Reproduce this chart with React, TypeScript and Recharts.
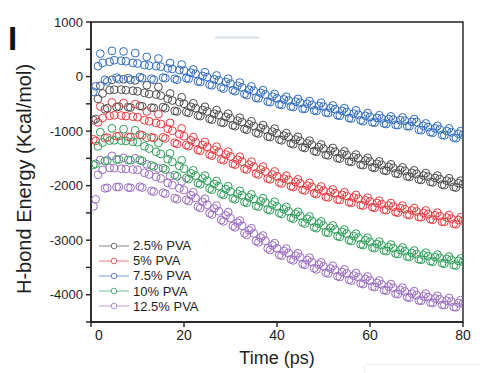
import React from 'react';
import { ScatterChart, Scatter, XAxis, YAxis, ReferenceArea } from 'recharts';

// time axis (ps), one sample every 0.5 ps
const TIME = Array.from({ length: 160 }, (_, i) => 0.5 + i * 0.5);

const X_TICKS = [0, 20, 40, 60, 80];
const Y_TICKS = [-4500, -4000, -3500, -3000, -2500, -2000, -1500, -1000, -500, 0, 500, 1000];

const SERIES_NAMES = ['2.5% PVA', '5% PVA', '7.5% PVA', '10% PVA', '12.5% PVA'];
const COLORS = ['#4d4d4d', '#e53a3f', '#2f6bc0', '#2e9e5a', '#9a6cc0'];

const PVA_2_5 = [
  -800, -780, -410, -170, -310, -600, -580, -250, -60, -240,
  -560, -550, -240, -50, -250, -560, -570, -260, -70, -270,
  -540, -545, -300, -160, -320, -570, -575, -330, -190, -350,
  -560, -580, -410, -310, -440, -630, -640, -470, -380, -500,
  -650, -665, -555, -490, -580, -715, -725, -615, -555, -640,
  -775, -790, -680, -615, -705, -840, -850, -740, -680, -765,
  -895, -910, -810, -755, -835, -960, -975, -875, -820, -905,
  -1030, -1045, -945, -890, -970, -1100, -1110, -1010, -955, -1040,
  -1155, -1170, -1085, -1035, -1110, -1225, -1240, -1155, -1105, -1180,
  -1295, -1310, -1225, -1175, -1250, -1365, -1380, -1295, -1245, -1320,
  -1435, -1445, -1360, -1310, -1380, -1495, -1505, -1420, -1370, -1440,
  -1555, -1565, -1480, -1430, -1500, -1615, -1625, -1540, -1490, -1560,
  -1665, -1675, -1600, -1555, -1620, -1720, -1730, -1655, -1610, -1675,
  -1775, -1785, -1710, -1665, -1730, -1830, -1840, -1765, -1720, -1785,
  -1885, -1895, -1815, -1770, -1835, -1930, -1940, -1860, -1815, -1880,
  -1980, -1990, -1910, -1865, -1930, -2025, -2035, -1955, -1910, -1975,
];

const PVA_5 = [
  -1150, -1180, -840, -550, -760, -1130, -1120, -720, -475, -710,
  -1095, -1090, -715, -485, -725, -1105, -1110, -735, -505, -745,
  -1065, -1075, -800, -640, -820, -1115, -1125, -850, -690, -870,
  -1115, -1135, -955, -850, -995, -1215, -1235, -1055, -950, -1095,
  -1255, -1275, -1170, -1110, -1205, -1345, -1360, -1255, -1200, -1290,
  -1430, -1450, -1345, -1285, -1380, -1520, -1535, -1430, -1375, -1465,
  -1600, -1615, -1525, -1470, -1560, -1690, -1705, -1615, -1560, -1650,
  -1780, -1795, -1705, -1650, -1740, -1870, -1885, -1795, -1740, -1830,
  -1945, -1960, -1870, -1820, -1895, -2010, -2025, -1935, -1885, -1960,
  -2075, -2090, -2000, -1950, -2025, -2140, -2155, -2065, -2015, -2090,
  -2205, -2215, -2120, -2070, -2140, -2255, -2265, -2170, -2120, -2190,
  -2305, -2315, -2220, -2170, -2240, -2355, -2365, -2270, -2220, -2290,
  -2395, -2405, -2320, -2275, -2340, -2440, -2450, -2365, -2320, -2385,
  -2485, -2495, -2410, -2365, -2430, -2530, -2540, -2455, -2410, -2475,
  -2575, -2580, -2500, -2455, -2520, -2615, -2625, -2545, -2495, -2560,
  -2660, -2665, -2585, -2540, -2605, -2700, -2710, -2630, -2580, -2645,
];

const PVA_7_5 = [
  -280, -180, 190, 420, 250, -60, -90, 270, 470, 300,
  -20, -50, 290, 460, 280, -30, -60, 250, 430, 240,
  -10, -30, 210, 360, 200, -40, -60, 190, 330, 180,
  -20, -30, 150, 250, 140, -40, -60, 120, 220, 110,
  -30, -40, 70, 130, 50, -90, -100, 10, 80, -10,
  -150, -160, -50, 20, -70, -200, -220, -100, -40, -130,
  -250, -270, -170, -110, -200, -320, -340, -240, -180, -260,
  -390, -400, -300, -250, -330, -460, -470, -370, -320, -400,
  -510, -520, -420, -370, -440, -550, -560, -460, -410, -480,
  -590, -590, -500, -450, -520, -620, -630, -540, -480, -550,
  -660, -670, -580, -530, -600, -710, -720, -630, -580, -650,
  -760, -770, -680, -620, -700, -800, -820, -720, -670, -740,
  -840, -845, -760, -710, -770, -860, -870, -780, -730, -790,
  -885, -890, -800, -750, -810, -910, -910, -830, -780, -835,
  -975, -985, -905, -860, -925, -1020, -1030, -950, -905, -970,
  -1070, -1080, -1000, -950, -1020, -1120, -1130, -1050, -1000, -1070,
];

const PVA_10 = [
  -1620, -1600, -1280, -1020, -1210, -1550, -1540, -1175, -950, -1170,
  -1520, -1520, -1175, -965, -1180, -1530, -1535, -1195, -985, -1205,
  -1530, -1550, -1280, -1120, -1320, -1630, -1650, -1380, -1220, -1420,
  -1680, -1705, -1515, -1410, -1565, -1805, -1830, -1640, -1535, -1690,
  -1860, -1880, -1775, -1720, -1815, -1955, -1975, -1870, -1815, -1910,
  -2055, -2075, -1970, -1915, -2010, -2150, -2170, -2065, -2010, -2105,
  -2235, -2250, -2150, -2095, -2175, -2300, -2315, -2215, -2160, -2245,
  -2370, -2385, -2285, -2230, -2310, -2435, -2450, -2350, -2295, -2380,
  -2500, -2520, -2435, -2390, -2470, -2590, -2605, -2520, -2480, -2555,
  -2675, -2695, -2610, -2565, -2645, -2765, -2780, -2695, -2655, -2730,
  -2850, -2865, -2775, -2730, -2805, -2925, -2940, -2850, -2805, -2880,
  -3000, -3015, -2925, -2880, -2955, -3075, -3090, -3000, -2955, -3030,
  -3135, -3145, -3070, -3025, -3090, -3190, -3200, -3125, -3080, -3145,
  -3245, -3255, -3180, -3135, -3200, -3300, -3310, -3235, -3190, -3255,
  -3350, -3360, -3275, -3230, -3290, -3385, -3395, -3310, -3265, -3325,
  -3420, -3430, -3345, -3300, -3360, -3455, -3465, -3380, -3335, -3395,
];

const PVA_12_5 = [
  -2380, -2250, -1800, -1530, -1710, -2050, -2040, -1675, -1455, -1680,
  -2025, -2025, -1690, -1490, -1695, -2035, -2040, -1705, -1500, -1710,
  -2020, -2035, -1765, -1610, -1795, -2095, -2110, -1840, -1685, -1870,
  -2130, -2150, -1950, -1830, -1990, -2230, -2250, -2050, -1925, -2080,
  -2260, -2285, -2175, -2120, -2225, -2385, -2410, -2300, -2240, -2350,
  -2505, -2530, -2420, -2365, -2470, -2630, -2655, -2545, -2485, -2595,
  -2740, -2765, -2680, -2640, -2735, -2875, -2905, -2820, -2780, -2875,
  -3015, -3040, -2955, -2915, -3010, -3150, -3180, -3095, -3055, -3150,
  -3270, -3285, -3200, -3155, -3235, -3350, -3370, -3285, -3240, -3315,
  -3435, -3450, -3365, -3320, -3400, -3515, -3535, -3450, -3405, -3480,
  -3595, -3610, -3520, -3470, -3545, -3660, -3675, -3585, -3535, -3610,
  -3725, -3740, -3650, -3600, -3675, -3790, -3805, -3715, -3665, -3740,
  -3850, -3860, -3785, -3740, -3810, -3915, -3925, -3850, -3805, -3875,
  -3980, -3990, -3915, -3870, -3940, -4045, -4055, -3980, -3935, -4005,
  -4105, -4110, -4030, -3980, -4045, -4145, -4150, -4070, -4020, -4085,
  -4185, -4190, -4110, -4060, -4125, -4225, -4230, -4150, -4100, -4165,
];

const SERIES = [PVA_2_5, PVA_5, PVA_7_5, PVA_10, PVA_12_5];

const FONT = 'Arial, "Liberation Sans", sans-serif';
const INK = '#1e1e1e';

const toPoints = (values: number[]) => values.map((v, i) => ({ t: TIME[i], v }));

const ring = (color: string) => (props: any) => (
  <circle cx={props.cx} cy={props.cy} r={3.9} fill="none" stroke={color} strokeWidth={1} />
);

const YTick = (props: any) => {
  const { x, y, payload } = props;
  if (payload.value % 1000 !== 0) return <g />;
  return (
    <text x={x} y={y} dy={4.5} textAnchor="end" fontSize={13} fontFamily={FONT} fill={INK}>
      {payload.value}
    </text>
  );
};

const XTick = (props: any) => {
  const { x, y, payload } = props;
  const shift = payload.value === 0 ? 8 : 0;
  return (
    <text x={x + shift} y={y} dy={11} textAnchor="middle" fontSize={14} fontFamily={FONT} fill={INK}>
      {payload.value}
    </text>
  );
};

const LegendBox = () => (
  <div style={{ position: 'absolute', left: 99, top: 238, fontFamily: FONT, fontSize: 13, color: INK }}>
    {SERIES_NAMES.map((name, i) => (
      <div key={name} style={{ display: 'flex', alignItems: 'center', height: 15.2 }}>
        <svg width={30} height={10} style={{ marginRight: 4 }}>
          <line x1={0} y1={5} x2={30} y2={5} stroke={COLORS[i]} strokeOpacity={0.55} strokeWidth={1.2} />
          <circle cx={15} cy={5} r={2.8} fill="#fff" stroke={COLORS[i]} strokeOpacity={0.8} strokeWidth={1} />
        </svg>
        <span>{name}</span>
      </div>
    ))}
  </div>
);

export default function App() {
  return (
    <div style={{ position: 'absolute', left: 0, top: 0, width: 480, height: 373, background: '#fff', overflow: 'hidden' }}>
      <div style={{ position: 'absolute', left: 8, top: 22, fontFamily: FONT, fontWeight: 'bold', fontSize: 33, lineHeight: '33px', color: '#111' }}>
        I
      </div>
      <div style={{ position: 'absolute', left: 215, top: 36, width: 44, height: 3, background: '#e3e8ec' }} />
      <div style={{ position: 'absolute', left: 364, top: 364, width: 130, height: 20, border: '1px solid #eeeeee', borderRadius: 3 }} />
      <ScatterChart width={480} height={373} margin={{ top: 22, right: 17, bottom: 0, left: 0 }}>
        <XAxis
          type="number"
          dataKey="t"
          domain={[0, 80]}
          ticks={X_TICKS}
          allowDataOverflow
          tickSize={5}
          tickMargin={2}
          tick={<XTick />}
          height={51}
          stroke={INK}
          strokeWidth={1.4}
          label={{ value: 'Time (ps)', position: 'insideBottom', offset: 9, fontSize: 18, fontFamily: FONT, fill: INK }}
        />
        <YAxis
          type="number"
          dataKey="v"
          domain={[-4500, 1000]}
          ticks={Y_TICKS}
          allowDataOverflow
          tickSize={5}
          tickMargin={3}
          tick={<YTick />}
          width={91}
          stroke={INK}
          strokeWidth={1.4}
          label={{
            value: 'H-bond Energy (Kcal/mol)',
            angle: -90,
            position: 'insideLeft',
            offset: 24,
            dy: 122,
            fontSize: 20,
            fontFamily: FONT,
            fill: INK,
          }}
        />
        <ReferenceArea x1={0} x2={80} y1={-4500} y2={1000} fill="none" stroke={INK} strokeWidth={1.4} ifOverflow="visible" />
        {SERIES.map((values, i) => (
          <Scatter
            key={SERIES_NAMES[i]}
            name={SERIES_NAMES[i]}
            data={toPoints(values)}
            shape={ring(COLORS[i])}
            isAnimationActive={false}
          />
        ))}
      </ScatterChart>
      <LegendBox />
    </div>
  );
}
